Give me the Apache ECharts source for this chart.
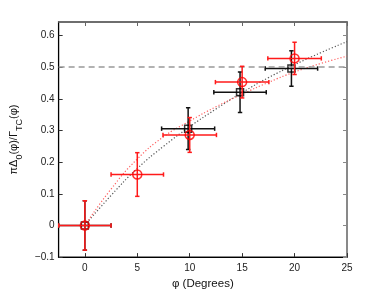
<!DOCTYPE html>
<html><head><meta charset="utf-8">
<script src="https://cdn.jsdelivr.net/npm/echarts@6/dist/echarts.min.js"></script>
<style>html,body{margin:0;padding:0;background:#fff}#c{width:382px;height:295px}</style>
</head><body><div id="c"></div>
<script>
// ---- data ----
const blackX    = [0, 9.85, 14.8, 19.7];
const blackY    = [0, 0.306, 0.421, 0.496];
const blackXErr = [2.5, 2.53, 2.5, 2.5];
const blackYErr = [0.078, 0.066, 0.064, 0.056];

const redX    = [0, 5, 10, 15, 20];
const redY    = [0, 0.161, 0.286, 0.453, 0.528];
const redXErr = [2.5, 2.5, 2.55, 2.55, 2.55];
const redYErr = [0.078, 0.069, 0.055, 0.05, 0.051];

const fitX     = [0, 2.5, 5, 7.5, 10, 12.5, 15, 17.5, 20, 22.5, 25];
const blackFit = [0, 0.095, 0.18, 0.25, 0.312, 0.368, 0.42, 0.467, 0.508, 0.546, 0.581];
const redFit   = [0, 0.115, 0.21, 0.28, 0.33, 0.375, 0.415, 0.452, 0.485, 0.512, 0.535];

const xTicks = [0, 5, 10, 15, 20, 25];
const yTicks = [-0.1, 0, 0.1, 0.2, 0.3, 0.4, 0.5, 0.6];
const refLevel = 0.5;

// ---- build ----
const FONT = 'Liberation Sans';
function zip(a, b, c, d) { return a.map((v, i) => d ? [v, b[i], c[i], d[i]] : [v, b[i]]); }
function errRender(color) {
  return function (params, api) {
    const x = api.value(0), y = api.value(1), ex = api.value(2), ey = api.value(3);
    const l = api.coord([x - ex, y]), r = api.coord([x + ex, y]);
    const t = api.coord([x, y + ey]), b = api.coord([x, y - ey]);
    const cap = 2.2;
    const style = { stroke: color, lineWidth: 1.5 };
    const ln = (x1, y1, x2, y2) => ({ type: 'line', shape: { x1, y1, x2, y2 }, style });
    return { type: 'group', children: [
      ln(l[0], l[1], r[0], r[1]),
      ln(t[0], t[1], b[0], b[1]),
      ln(t[0] - cap, t[1], t[0] + cap, t[1]),
      ln(b[0] - cap, b[1], b[0] + cap, b[1]),
      ln(l[0], l[1] - cap, l[0], l[1] + cap),
      ln(r[0], r[1] - cap, r[0], r[1] + cap)
    ]};
  };
}
const fmtY = v => Math.abs(v) < 1e-9 ? '0' : (v < 0 ? '\u22120.' + Math.round(-v * 10) : v.toFixed(1));
const labelStyle = { fontFamily: FONT, fontSize: 10, color: '#222' };

const chart = echarts.init(document.getElementById('c'), null, { renderer: 'canvas' });
chart.setOption({
  animation: false,
  backgroundColor: '#fff',
  grid: { left: 50, right: 35, top: 22, bottom: 33, show: true, borderColor: '#666', borderWidth: 1.5, backgroundColor: 'transparent' },
  xAxis: [
    { type: 'value', min: -2.5, max: 25, position: 'bottom',
      name: 'φ (Degrees)', nameLocation: 'middle', nameGap: 14,
      nameTextStyle: { fontFamily: FONT, fontSize: 11.5, color: '#111' },
      axisLine: { show: true, onZero: false, lineStyle: { color: '#000', width: 1 } },
      axisTick: { show: true, inside: true, length: 4, customValues: xTicks, lineStyle: { color: '#333' } },
      axisLabel: { customValues: xTicks, margin: 6, ...labelStyle },
      splitLine: { show: false } },
    { type: 'value', min: -2.5, max: 25, position: 'top',
      axisLine: { show: true, onZero: false, lineStyle: { color: '#666', width: 1.5 } },
      axisTick: { show: true, inside: true, length: 4, customValues: xTicks, lineStyle: { color: '#666' } },
      axisLabel: { show: false }, splitLine: { show: false } }
  ],
  yAxis: [
    { type: 'value', min: -0.1, max: 0.643, position: 'left',
      name: '{a|πΔ}{s|0}{a|(φ)/Γ}{s|TC}{a|(φ)}', nameLocation: 'middle', nameGap: 28, nameRotate: 90,
      nameTextStyle: { fontFamily: FONT, fontSize: 11, color: '#111',
        rich: { a: { fontFamily: FONT, fontSize: 11, color: '#111', lineHeight: 14, verticalAlign: 'top' },
                s: { fontFamily: FONT, fontSize: 9, color: '#111', lineHeight: 14, padding: [7, 0, 0, 0], verticalAlign: 'top' } } },
      axisLine: { show: true, onZero: false, lineStyle: { color: '#000', width: 1 } },
      axisTick: { show: true, inside: true, length: 4, customValues: yTicks, lineStyle: { color: '#333' } },
      axisLabel: { customValues: yTicks, margin: 4, formatter: fmtY, ...labelStyle },
      splitLine: { show: false } },
    { type: 'value', min: -0.1, max: 0.643, position: 'right',
      axisLine: { show: true, onZero: false, lineStyle: { color: '#888', width: 1.5 } },
      axisTick: { show: true, inside: true, length: 4, customValues: yTicks, lineStyle: { color: '#888' } },
      axisLabel: { show: false }, splitLine: { show: false } }
  ],
  series: [
    { type: 'line', data: zip(fitX, blackFit), smooth: true, showSymbol: false, silent: true, z: 2,
      lineStyle: { color: '#555', width: 1.2, type: [1.2, 2] },
      markLine: { silent: true, symbol: 'none', label: { show: false },
        lineStyle: { color: '#999', width: 1.5, type: [6, 4] }, data: [{ yAxis: refLevel }] } },
    { type: 'line', data: zip(fitX, redFit), smooth: true, showSymbol: false, silent: true, z: 2,
      lineStyle: { color: '#ff6060', width: 1.2, type: [1.2, 2] } },
    { type: 'custom', renderItem: errRender('#111'), data: zip(blackX, blackY, blackXErr, blackYErr), clip: true, z: 3 },
    { type: 'scatter', data: zip(blackX, blackY), symbol: 'rect', symbolSize: 7, z: 4,
      itemStyle: { color: 'rgba(0,0,0,0)', borderColor: '#000', borderWidth: 1.5 } },
    { type: 'custom', renderItem: errRender('#ff1a1a'), data: zip(redX, redY, redXErr, redYErr), clip: true, z: 5 },
    { type: 'scatter', data: zip(redX, redY), symbol: 'circle', symbolSize: 9, z: 6,
      itemStyle: { color: 'rgba(0,0,0,0)', borderColor: '#ff0000', borderWidth: 1.5 } }
  ]
});
</script></body></html>
